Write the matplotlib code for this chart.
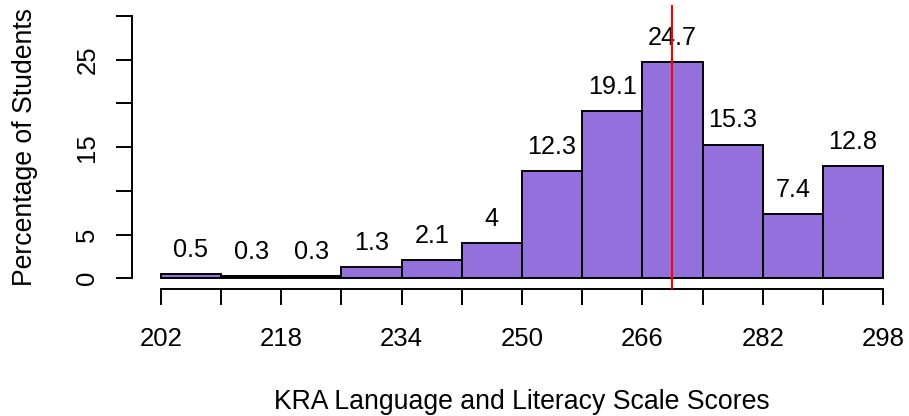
import numpy as np
import matplotlib
matplotlib.use('Agg')
import matplotlib.pyplot as plt

plt.rcParams['font.family'] = ['Liberation Sans', 'DejaVu Sans']

# histogram data: bin edges (scale scores) and percentage of students per bin
bin_edges = [202, 210, 218, 226, 234, 242, 250, 258, 266, 274, 282, 290, 298]
percentages = [0.5, 0.3, 0.3, 1.3, 2.1, 4, 12.3, 19.1, 24.7, 15.3, 7.4, 12.8]
mean_score = 270

x_ticks = bin_edges
x_tick_labels = ['202', '', '218', '', '234', '', '250', '', '266', '', '282', '', '298']
y_ticks = [0, 5, 10, 15, 20, 25, 30]
y_tick_labels = ['0', '5', '', '15', '', '25', '']

W, H = 909, 416
fig = plt.figure(figsize=(W / 100, H / 100), dpi=100)
# plot region in pixels (R style, extends past the right edge)
left, right, top, bottom = 132, 912, 5.5, 288.8
ax = fig.add_axes([left / W, (H - bottom) / H, (right - left) / W, (bottom - top) / H])

widths = np.diff(bin_edges)
ax.bar(bin_edges[:-1], percentages, width=widths, align='edge',
       color='#9370DB', edgecolor='black', linewidth=1.4, zorder=2)

for x0, w, v in zip(bin_edges[:-1], widths, percentages):
    ax.annotate('%g' % v, (x0 + w / 2, v), xytext=(0, 17.3), textcoords='offset points',
                ha='center', va='center', fontsize=18.2)

ax.axvline(mean_score, color='red', linewidth=1.5, zorder=3)

span = bin_edges[-1] - bin_edges[0]
ax.set_xlim(bin_edges[0] - 0.04 * span, bin_edges[-1] + 0.04 * span)
ax.set_ylim(-1.2, 31.2)

for s in ['top', 'right']:
    ax.spines[s].set_visible(False)
ax.spines['left'].set_bounds(0, 30)
ax.spines['bottom'].set_bounds(bin_edges[0], bin_edges[-1])
for s in ['left', 'bottom']:
    ax.spines[s].set_linewidth(1.4)

ax.set_xticks(x_ticks)
ax.set_xticklabels(x_tick_labels, fontsize=18.5)
ax.set_yticks(y_ticks)
ax.set_yticklabels(y_tick_labels, fontsize=18.5, rotation=90, va='center')
ax.tick_params(axis='both', direction='out', length=11.5, width=1.4)
ax.tick_params(axis='x', pad=16)
ax.tick_params(axis='y', pad=12)

ax.set_xlabel('KRA Language and Literacy Scale Scores', fontsize=19.2)
ax.xaxis.label.set_va('baseline')
ax.xaxis.set_label_coords(0.5, -(409 - bottom) / (bottom - top))
ax.set_ylabel('Percentage of Students', fontsize=19.2)
ax.yaxis.label.set_va('baseline')
ax.yaxis.set_label_coords((32 - left) / (right - left), 0.5)

fig.savefig('out.png', dpi=100)
